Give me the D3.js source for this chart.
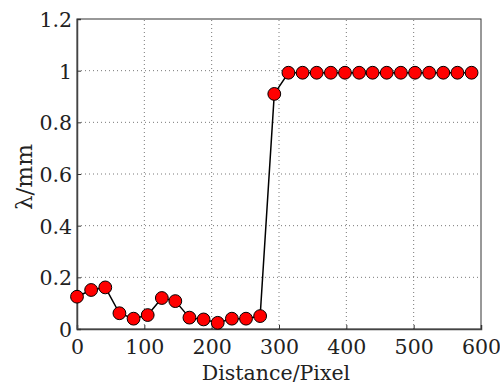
<!DOCTYPE html>
<html>
<head>
<meta charset="utf-8">
<style>
  body { margin: 0; background: #fff; }
</style>
</head>
<body>
<svg></svg>
<script src="https://d3js.org/d3.v7.min.js"></script>
<script>
let width = 500,
    height = 388;
let serif = "'DejaVu Serif', serif";
let fontSize = "20.5px";

// data
let distance = [0, 21, 42, 63, 84, 105, 126, 146, 167, 188, 209, 230, 251, 272,
                293, 314, 335, 356, 377, 398, 419, 439, 460, 481, 502, 523, 544, 565, 586];
let lambda = [0.125, 0.151, 0.161, 0.061, 0.040, 0.054, 0.120, 0.108, 0.044, 0.037, 0.024, 0.040, 0.040, 0.050,
              0.910, 0.992, 0.992, 0.992, 0.992, 0.992, 0.992, 0.992, 0.992, 0.992, 0.992, 0.992, 0.992, 0.992, 0.992];
let xTicks = [0, 100, 200, 300, 400, 500, 600];
let yTicks = [0, 0.2, 0.4, 0.6, 0.8, 1, 1.2];

let margin = {left: 77, right: 19, top: 19, bottom: 59};

let svg = d3.select("svg")
    .attr("width", width)
    .attr("height", height)
    .style("font-family", serif);

let x = d3.scaleLinear().domain([0, 600]).range([margin.left, width - margin.right]);
let y = d3.scaleLinear().domain([0, 1.2]).range([height - margin.bottom, margin.top]);

// grid
svg.append("g")
  .selectAll("line")
  .data(xTicks.slice(1, -1))
  .enter().append("line")
    .attr("x1", d => x(d)).attr("x2", d => x(d))
    .attr("y1", y(0)).attr("y2", y(1.2))
    .attr("stroke", "#555").attr("stroke-width", 0.8)
    .attr("stroke-dasharray", "1,3");

svg.append("g")
  .selectAll("line")
  .data(yTicks.slice(1, -1))
  .enter().append("line")
    .attr("x1", x(0)).attr("x2", x(600))
    .attr("y1", d => y(d)).attr("y2", d => y(d))
    .attr("stroke", "#555").attr("stroke-width", 0.8)
    .attr("stroke-dasharray", "1,3");

// box
svg.append("rect")
    .attr("x", x(0)).attr("y", y(1.2))
    .attr("width", x(600) - x(0)).attr("height", y(0) - y(1.2))
    .attr("fill", "none").attr("stroke", "#333").attr("stroke-width", 1);

// axes
let xAxis = svg.append("g")
    .attr("transform", "translate(0," + y(0) + ")")
    .call(d3.axisBottom(x).tickValues(xTicks).tickSize(-4).tickPadding(10).tickFormat(d3.format("d")));
let yAxis = svg.append("g")
    .attr("transform", "translate(" + x(0) + ",0)")
    .call(d3.axisLeft(y).tickValues(yTicks).tickSize(-4).tickPadding(5).tickFormat(d => d3.format("~g")(d)));

[xAxis, yAxis].forEach(a => {
  a.attr("font-family", null).attr("font-size", null);
  a.select(".domain").attr("stroke", "#444").attr("stroke-width", 1.5);
  a.selectAll(".tick line").attr("stroke", "#333");
  a.selectAll(".tick text")
    .style("font-family", serif)
    .style("font-size", fontSize)
    .attr("fill", "#222");
});
yAxis.selectAll(".tick text").attr("dy", "0.36em");

// line + markers
let line = d3.line()
    .x((d, i) => x(distance[i]))
    .y(d => y(d));

svg.append("path")
    .datum(lambda)
    .attr("d", line)
    .attr("fill", "none")
    .attr("stroke", "#000")
    .attr("stroke-width", 1.5);

svg.append("g")
  .selectAll("circle")
  .data(lambda)
  .enter().append("circle")
    .attr("cx", (d, i) => x(distance[i]))
    .attr("cy", d => y(d))
    .attr("r", 6.4)
    .attr("fill", "#f00")
    .attr("stroke", "#000")
    .attr("stroke-width", 1);

// labels
svg.append("text")
    .attr("x", 276)
    .attr("y", 380)
    .attr("text-anchor", "middle")
    .style("font-family", serif)
    .style("font-size", fontSize)
    .attr("fill", "#222")
    .text("Distance/Pixel");

svg.append("text")
    .attr("transform", "translate(32,177) rotate(-90)")
    .attr("text-anchor", "middle")
    .style("font-family", serif)
    .style("font-size", "23px")
    .attr("fill", "#222")
    .text("λ/mm");
</script>
</body>
</html>
